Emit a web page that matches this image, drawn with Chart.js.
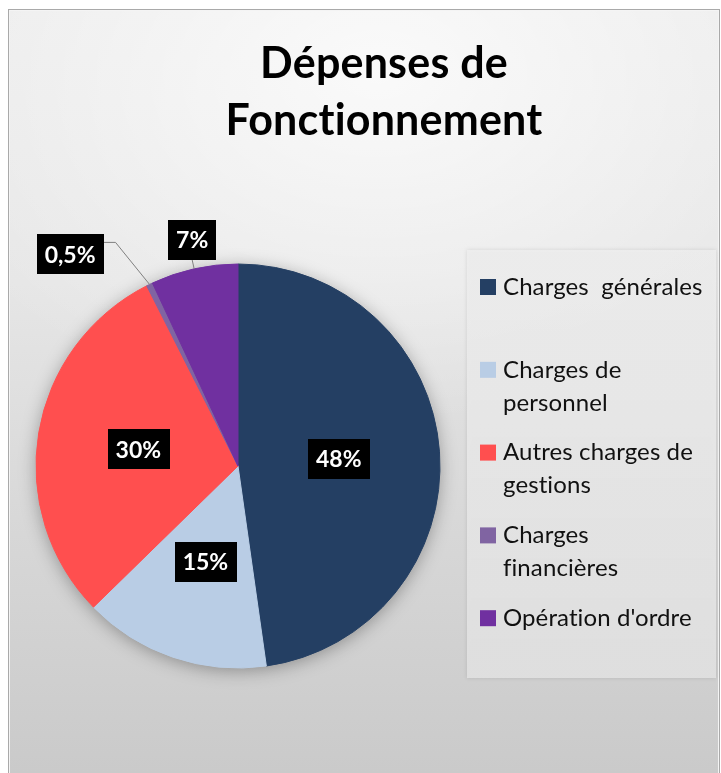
<!DOCTYPE html>
<html lang="fr">
<head>
<meta charset="utf-8">
<title>Dépenses de Fonctionnement</title>
<script src="https://cdn.jsdelivr.net/npm/chart.js@4.4.1/dist/chart.umd.min.js"></script>
<style>
  html, body { margin: 0; padding: 0; background: #fff; }
  #wrap { position: relative; width: 721px; height: 773px; overflow: hidden; }
  #card {
    position: absolute; left: 8px; top: 9px; width: 710px; height: 780px;
    border: 1px solid #a9a9a9;
    box-shadow: inset 0 0 0 1px #f4f4f4;
    background:
      radial-gradient(ellipse 70% 45% at 52% 8%, rgba(255,255,255,0.75), rgba(255,255,255,0) 100%),
      linear-gradient(#ececec 0%, #e6e6e6 35%, #d8d8d8 65%, #c9c9c9 100%);
  }
  #chart { position: absolute; left: 0; top: 0; }
</style>
</head>
<body>
<div id="wrap">
  <div id="card"></div>
  <canvas id="chart" width="721" height="773"></canvas>
</div>
<script>
// ─── DATA ─────────────────────────────────────────────────────────────────────
const TITLE_LINES = ['Dépenses de', 'Fonctionnement'];
const CATEGORIES  = [['Charges  générales'], ['Charges de', 'personnel'], ['Autres charges de', 'gestions'],
                     ['Charges', 'financières'], ["Opération d'ordre"]];
const VALUES      = [48, 15, 30, 0.5, 7];   // en %
const COLORS      = ['#243f63', '#b9cde5', '#ff4f4f', '#8064a2', '#7030a0'];

// ─── LAYOUT / STYLE ───────────────────────────────────────────────────────────
const FONT        = 'Lato, "Open Sans", sans-serif';
const TITLE_X     = 384;
const TITLE_BASE  = [78, 135];
const LEGEND_BOX  = { x: 467, y: 250, w: 249, h: 428 };
const LEGEND_ROW0 = 287, LEGEND_STEP = 82.8, LEGEND_LINE = 33;
const LEGEND_SW_X = 480, LEGEND_TXT_X = 503;
// étiquettes placées hors du camembert (petites parts) : décalage du coude
const OUTSIDE = {
    3: { dx: -34, dy: -42, leg: -12, attach: 'right' },
    4: { dx: -2,  dy: -9,  leg: 0,   attach: 'bottom' },
};

const fmtPct = (v) => String(v).replace('.', ',') + '%';

// ─── PLUGIN : fond, titre, légende, étiquettes ────────────────────────────────
const decorPlugin = {
    id: 'decor',
    beforeDraw(chart) {
        const ctx = chart.ctx;
        ctx.save();

        // boîte de légende
        const b = LEGEND_BOX;
        const g = ctx.createLinearGradient(0, b.y, 0, b.y + b.h);
        g.addColorStop(0, 'rgba(238,238,238,0.9)');
        g.addColorStop(1, 'rgba(224,224,224,0.95)');
        ctx.shadowColor = 'rgba(0,0,0,0.12)';
        ctx.shadowBlur = 4;
        ctx.fillStyle = g;
        ctx.fillRect(b.x, b.y, b.w, b.h);
        ctx.shadowColor = 'transparent';

        // titre (letterSpacing pour éviter la ligature « ti »)
        ctx.letterSpacing = '0.2px';
        ctx.fillStyle = '#000';
        ctx.font = `bold 43px ${FONT}`;
        ctx.textAlign = 'center';
        ctx.textBaseline = 'alphabetic';
        TITLE_LINES.forEach((t, i) => ctx.fillText(t, TITLE_X, TITLE_BASE[i]));

        // légende
        ctx.letterSpacing = '0.1px';
        ctx.font = `24px ${FONT}`;
        ctx.textAlign = 'left';
        ctx.textBaseline = 'middle';
        const ds = chart.data.datasets[0];
        chart.data.labels.forEach((lines, i) => {
            const y = LEGEND_ROW0 + i * LEGEND_STEP;
            ctx.fillStyle = ds.backgroundColor[i];
            ctx.fillRect(LEGEND_SW_X, y - 8, 16, 16);
            ctx.fillStyle = '#111';
            [].concat(lines).forEach((line, k) => {
                ctx.fillText(line, LEGEND_TXT_X, y + k * LEGEND_LINE);
            });
        });
        ctx.restore();
    },
    beforeDatasetsDraw(chart) {
        // ombre douce sous le camembert
        const arc = chart.getDatasetMeta(0).data[0];
        if (!arc) return;
        const { x, y, outerRadius } = arc.getProps(['x', 'y', 'outerRadius'], true);
        const ctx = chart.ctx;
        ctx.save();
        ctx.shadowColor = 'rgba(0,0,0,0.35)';
        ctx.shadowBlur = 18;
        ctx.shadowOffsetY = 3;
        ctx.fillStyle = '#999';
        ctx.beginPath();
        ctx.arc(x, y, outerRadius - 1, 0, Math.PI * 2);
        ctx.fill();
        ctx.restore();
    },
    afterDatasetsDraw(chart) {
        const ctx  = chart.ctx;
        const meta = chart.getDatasetMeta(0);
        ctx.save();
        ctx.font = `bold 23px ${FONT}`;
        ctx.textAlign = 'center';
        ctx.textBaseline = 'middle';
        meta.data.forEach((arc, i) => {
            const text = fmtPct(chart.data.datasets[0].data[i]);
            const w = ctx.measureText(text).width + 16, h = 40;
            let cx, cy;
            const out = OUTSIDE[i];
            if (!out) {
                ({ x: cx, y: cy } = arc.tooltipPosition(true));
            } else {
                const p = arc.getProps(['x', 'y', 'startAngle', 'endAngle', 'outerRadius'], true);
                const mid = (p.startAngle + p.endAngle) / 2;
                const ex = p.x + Math.cos(mid) * p.outerRadius;
                const ey = p.y + Math.sin(mid) * p.outerRadius;
                const kx = ex + out.dx, ky = ey + out.dy;
                ctx.strokeStyle = '#7f7f7f';
                ctx.lineWidth = 1;
                ctx.beginPath();
                ctx.moveTo(ex, ey);
                ctx.lineTo(kx, ky);
                if (out.leg) ctx.lineTo(kx + out.leg, ky);
                ctx.stroke();
                if (out.attach === 'right') {
                    cx = kx + out.leg - w / 2;
                    cy = ky + 12;
                } else {
                    cx = kx;
                    cy = ky - h / 2;
                }
            }
            ctx.fillStyle = '#000';
            ctx.fillRect(Math.round(cx - w / 2), Math.round(cy - h / 2), Math.round(w), h);
            ctx.fillStyle = '#fff';
            ctx.fillText(text, cx, cy + 1);
        });
        ctx.restore();
    },
};

// ─── CHART ────────────────────────────────────────────────────────────────────
new Chart(document.getElementById('chart'), {
    type: 'pie',
    data: {
        labels: CATEGORIES,
        datasets: [{
            data: VALUES,
            backgroundColor: COLORS,
            borderColor: COLORS,
            borderWidth: 1,
            radius: 202,
        }],
    },
    options: {
        responsive: false,
        animation: false,
        events: [],
        layout: { padding: { left: 34, right: 279, top: 263, bottom: 104 } },
        plugins: {
            legend:  { display: false },
            tooltip: { enabled: false },
            title:   { display: false },
        },
    },
    plugins: [decorPlugin],
});
</script>
</body>
</html>
